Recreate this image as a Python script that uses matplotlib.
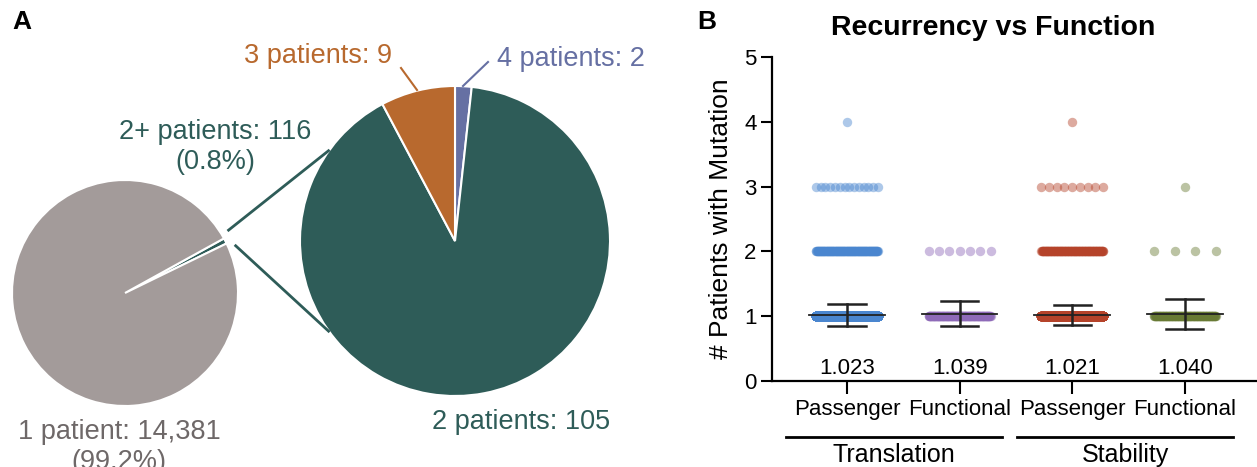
import numpy as np
import matplotlib
matplotlib.use("Agg")
import matplotlib.pyplot as plt
from matplotlib import transforms

plt.rcParams['font.family'] = ['Liberation Sans', 'DejaVu Sans']

# panel A: recurrence of mutations across patients
overall_labels = ['2+ patients: 116\n(0.8%)', '1 patient: 14,381\n(99.2%)']
overall_counts = [116, 14381]
recurrent_labels = ['4 patients: 2', '2 patients: 105', '3 patients: 9']
recurrent_counts = [2, 105, 9]

# panel B: number of patients per mutation, split by predicted function
groups = ['Translation', 'Stability']
classes = ['Passenger', 'Functional', 'Passenger', 'Functional']
levels = [1, 2, 3, 4]
# how many mutations sit at each level (1, 2, 3, 4 patients)
trans_passenger = [7832, 153, 14, 1]
trans_functional = [173, 7, 0, 0]
stab_passenger = [7843, 147, 9, 1]
stab_functional = [145, 4, 1, 0]
means = [1.023, 1.039, 1.021, 1.040]
sds = [0.167, 0.195, 0.156, 0.233]

grey = '#A39B9A'
green = '#2E5C58'
orange = '#B8692E'
slate = '#6670A3'
strip_colors = ['#4A86CF', '#8E6AB8', '#B5432A', '#687A34']

fig = plt.figure(figsize=(12.57, 4.67), dpi=100)

# full-figure canvas in pixel units for the two pies
W, H = 1257, 467
cv = fig.add_axes([0, 0, 1, 1])

c1, r1 = (125, H - 293), 113
c2, r2 = (455, H - 241), 155
start1 = 26

w1, _ = cv.pie(overall_counts, colors=[green, grey], startangle=start1,
               center=c1, radius=r1, frame=True,
               wedgeprops=dict(edgecolor='white', linewidth=1.5))
w2, _ = cv.pie(recurrent_counts, colors=[slate, green, orange], startangle=90,
               counterclock=False, center=c2, radius=r2, frame=True,
               wedgeprops=dict(edgecolor='white', linewidth=1.5))
cv.set_xlim(0, W)
cv.set_ylim(0, H)
cv.set_aspect('equal')
cv.axis('off')

# zoom lines from the 2+ sliver to the recurrent pie
t1, t2 = np.deg2rad(w1[0].theta1), np.deg2rad(w1[0].theta2)
for ta, tb in [(t2 + 0.04, np.deg2rad(144)), (t1 - 0.04, np.deg2rad(216))]:
    xa = c1[0] + 1.06 * r1 * np.cos(ta)
    ya = c1[1] + 1.06 * r1 * np.sin(ta)
    xb = c2[0] + r2 * np.cos(tb)
    yb = c2[1] + r2 * np.sin(tb)
    cv.plot([xa, xb], [ya, yb], color=green, lw=2, solid_capstyle='butt')

# leader lines for the small slices
cv.plot([401, 417], [H - 68, H - 90], color=orange, lw=1.5)
cv.plot([488, 463], [H - 62, H - 86], color=slate, lw=1.5)

fs = 19.5
cv.text(318, H - 56, recurrent_labels[2], color=orange, fontsize=fs,
        ha='center', va='center')
cv.text(571, H - 59, recurrent_labels[0], color=slate, fontsize=fs,
        ha='center', va='center')
cv.text(521, H - 422, recurrent_labels[1], color=green, fontsize=fs,
        ha='center', va='center')
cv.text(215, H - 147, overall_labels[0], color=green, fontsize=fs,
        ha='center', va='center', linespacing=1.2)
cv.text(119, H - 447, overall_labels[1], color='#6E6868', fontsize=fs,
        ha='center', va='center', linespacing=1.2)

fig.text(22 / W, 1 - 22 / H, 'A', fontsize=19, fontweight='bold',
         ha='center', va='center')
fig.text(707 / W, 1 - 22 / H, 'B', fontsize=19, fontweight='bold',
         ha='center', va='center')

# panel B strip plot
ax = fig.add_axes([772 / W, 86 / H, 485 / W, 324 / H])
strips = [trans_passenger, trans_functional, stab_passenger, stab_functional]
half = 0.275
for i, counts in enumerate(strips):
    for lev, n in zip(levels, counts):
        if n == 0:
            continue
        xs = np.linspace(i - half, i + half, n) if n > 1 else np.array([i])
        ax.scatter(xs, np.full(n, lev), s=46, color=strip_colors[i],
                   alpha=0.45, linewidths=0, zorder=2)
    m, sd = means[i], sds[i]
    ax.plot([i - half - 0.06, i + half + 0.06], [m, m], color='#222222',
            lw=1.3, zorder=3)
    ax.plot([i, i], [m - sd, m + sd], color='#222222', lw=1.8, zorder=3)
    for yy in (m - sd, m + sd):
        ax.plot([i - 0.165, i + 0.165], [yy, yy], color='#222222', lw=1.8,
                zorder=3)
    ax.text(i, 0.2, f'{m:.3f}', ha='center', va='center', fontsize=16)

ax.set_xlim(-0.665, 3.64)
ax.set_ylim(0, 5)
ax.set_yticks(range(6))
ax.set_xticks(range(4))
ax.set_xticklabels(classes)
ax.tick_params(axis='y', labelsize=16, length=8, width=1.5, pad=3)
ax.tick_params(axis='x', labelsize=16, length=9, width=1.5, pad=4)
for side in ('top', 'right'):
    ax.spines[side].set_visible(False)
for side in ('left', 'bottom'):
    ax.spines[side].set_linewidth(1.6)
ax.set_ylabel('# Patients with Mutation', fontsize=19, labelpad=8)
fig.text(993 / W, 1 - 28 / H, 'Recurrency vs Function', fontsize=20.5,
         fontweight='bold', ha='center', va='center')

# group brackets under the class labels
trans = transforms.blended_transform_factory(ax.transData, ax.transAxes)
spans = [(-0.54, 1.375), (1.51, 3.43)]
for name, (a, b) in zip(groups, spans):
    ax.plot([a, b], [-0.173, -0.173], color='black', lw=2, transform=trans,
            clip_on=False)
    ax.text((a + b) / 2, -0.228, name, transform=trans, ha='center',
            va='center', fontsize=18)

fig.savefig('out.png', dpi=100)
